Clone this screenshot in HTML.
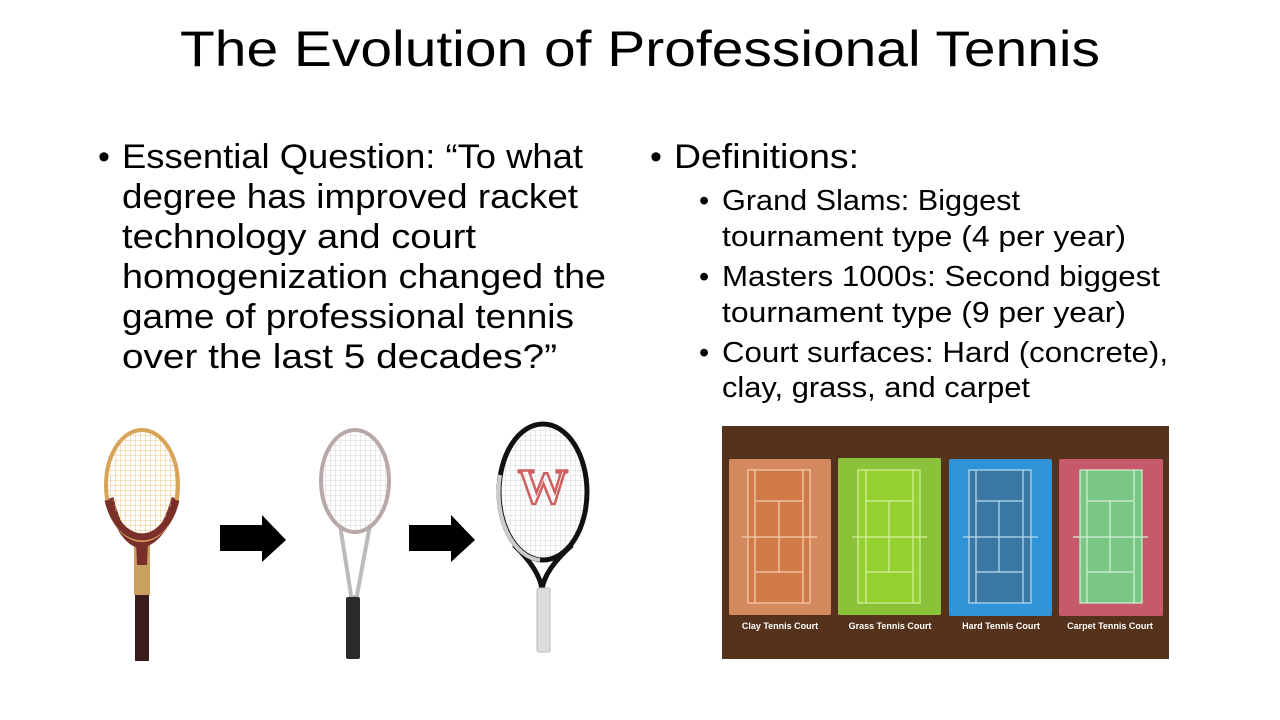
<!DOCTYPE html>
<html><head><meta charset="utf-8"><style>
html,body{margin:0;padding:0;background:#fff;}
svg{display:block;font-family:"Liberation Sans",sans-serif;}
</style></head><body>
<svg width="1280" height="720" viewBox="0 0 1280 720">
<text x="640" y="66" text-anchor="middle" font-size="50" textLength="920" lengthAdjust="spacingAndGlyphs" fill="#000">The Evolution of Professional Tennis</text>

<g font-size="34" fill="#000">
<text x="98" y="168">•</text>
<text x="122" y="168" textLength="461" lengthAdjust="spacingAndGlyphs">Essential Question: “To what</text>
<text x="122" y="208" textLength="456" lengthAdjust="spacingAndGlyphs">degree has improved racket</text>
<text x="122" y="248" textLength="354" lengthAdjust="spacingAndGlyphs">technology and court</text>
<text x="122" y="288" textLength="484" lengthAdjust="spacingAndGlyphs">homogenization changed the</text>
<text x="122" y="328" textLength="452" lengthAdjust="spacingAndGlyphs">game of professional tennis</text>
<text x="122" y="368" textLength="435" lengthAdjust="spacingAndGlyphs">over the last 5 decades?”</text>
</g>

<g fill="#000">
<text x="650" y="168" font-size="34">•</text>
<text x="674" y="168" font-size="34" textLength="185" lengthAdjust="spacingAndGlyphs">Definitions:</text>
<g font-size="29">
<text x="699" y="210">•</text>
<text x="722" y="210" textLength="298" lengthAdjust="spacingAndGlyphs">Grand Slams: Biggest</text>
<text x="722" y="246" textLength="404" lengthAdjust="spacingAndGlyphs">tournament type (4 per year)</text>
<text x="699" y="286">•</text>
<text x="722" y="286" textLength="438" lengthAdjust="spacingAndGlyphs">Masters 1000s: Second biggest</text>
<text x="722" y="322" textLength="404" lengthAdjust="spacingAndGlyphs">tournament type (9 per year)</text>
<text x="699" y="362">•</text>
<text x="722" y="362" textLength="446" lengthAdjust="spacingAndGlyphs">Court surfaces: Hard (concrete),</text>
<text x="722" y="397" textLength="308" lengthAdjust="spacingAndGlyphs">clay, grass, and carpet</text>
</g>
</g>

<defs>
<pattern id="str" width="5" height="5" patternUnits="userSpaceOnUse"><path d="M0 0H5M0 0V5" stroke="#ccc" stroke-width="0.8"/></pattern>
<pattern id="str1" width="5" height="5" patternUnits="userSpaceOnUse"><path d="M0 0H5M0 0V5" stroke="#e6b765" stroke-width="0.8"/></pattern>
</defs>

<g>
<rect x="134" y="535" width="16" height="60" fill="#c9a060"/>
<rect x="135" y="595" width="14" height="66" fill="#3a1c1c"/>
<path d="M110 498 Q120 540 140 545 Q164 540 175 498" fill="none" stroke="#7a2f2a" stroke-width="7"/>
<path d="M136 540 L148 540 L147 565 L137 565Z" fill="#7a2f2a"/>
<ellipse cx="142" cy="485" rx="36" ry="55" fill="url(#str1)" stroke="#d7a45a" stroke-width="4"/>
<path d="M108 500 A36 55 0 0 0 176 500" fill="none" stroke="#7a2f2a" stroke-width="7"/>
</g>
<polygon points="220,525 262,525 262,515 286,540 262,562 262,551 220,551" fill="#000"/>
<g>
<path d="M340 525 L351 595 M370 525 L357 595" stroke="#bbb" stroke-width="4" fill="none"/>
<rect x="349" y="595" width="10" height="12" fill="#bbb"/>
<rect x="346" y="597" width="14" height="62" rx="2" fill="#2b2b2b"/>
<ellipse cx="355" cy="481" rx="34" ry="51" fill="url(#str)" stroke="#b8a8a8" stroke-width="4"/>
</g>
<polygon points="409,525 451,525 451,515 475,540 451,562 451,551 409,551" fill="#000"/>
<g>
<path d="M514 545 Q540 570 542 590 Q544 570 572 545" stroke="#111" stroke-width="5" fill="none"/>
<rect x="537" y="588" width="13" height="64" rx="2" fill="#ddd" stroke="#bbb"/>
<ellipse cx="543" cy="492" rx="44" ry="68" fill="url(#str)" stroke="#111" stroke-width="5"/>
<path d="M500 475 A44 68 0 0 0 540 560" fill="none" stroke="#ccc" stroke-width="4"/>
<text x="543" y="503" text-anchor="middle" font-size="50" font-weight="bold" fill="none" stroke="#d06060" stroke-width="2.5" font-family="Liberation Serif,serif">W</text>
</g>

<g>
<rect x="722" y="426" width="447" height="233" fill="#55321c"/>
<g>
<rect x="729" y="459" width="102" height="156" rx="2" fill="#d48a5e"/>
<rect x="748" y="470" width="62" height="133" fill="#d07a48" stroke="#f4cfb0" stroke-width="1.2"/>
<path d="M755 470V603M803 470V603M755 501H803M755 572H803M779 501V572M742 537H817" stroke="#f4cfb0" stroke-width="1.2" fill="none"/>
</g>
<g>
<rect x="838" y="458" width="103" height="157" rx="2" fill="#8ac33a"/>
<rect x="858" y="470" width="62" height="133" fill="#93d030" stroke="#d6f0a0" stroke-width="1.2"/>
<path d="M866 470V603M913 470V603M866 501H913M866 572H913M889 501V572M852 537H927" stroke="#d6f0a0" stroke-width="1.2" fill="none"/>
</g>
<g>
<rect x="949" y="459" width="103" height="157" rx="2" fill="#2f93d8"/>
<rect x="969" y="470" width="62" height="133" fill="#3b77a3" stroke="#b8dcf0" stroke-width="1.2"/>
<path d="M976 470V603M1023 470V603M976 501H1023M976 572H1023M999 501V572M963 537H1038" stroke="#b8dcf0" stroke-width="1.2" fill="none"/>
</g>
<g>
<rect x="1059" y="459" width="104" height="157" rx="2" fill="#c65a6a"/>
<rect x="1080" y="470" width="62" height="133" fill="#79c685" stroke="#d6f0d6" stroke-width="1.2"/>
<path d="M1087 470V603M1134 470V603M1087 501H1134M1087 572H1134M1110 501V572M1073 537H1148" stroke="#d6f0d6" stroke-width="1.2" fill="none"/>
</g>
<g font-size="9" font-weight="bold" fill="#fff" text-anchor="middle">
<text x="780" y="629">Clay Tennis Court</text>
<text x="890" y="629">Grass Tennis Court</text>
<text x="1001" y="629">Hard Tennis Court</text>
<text x="1110" y="629">Carpet Tennis Court</text>
</g>
</g>
</svg>
</body></html>
